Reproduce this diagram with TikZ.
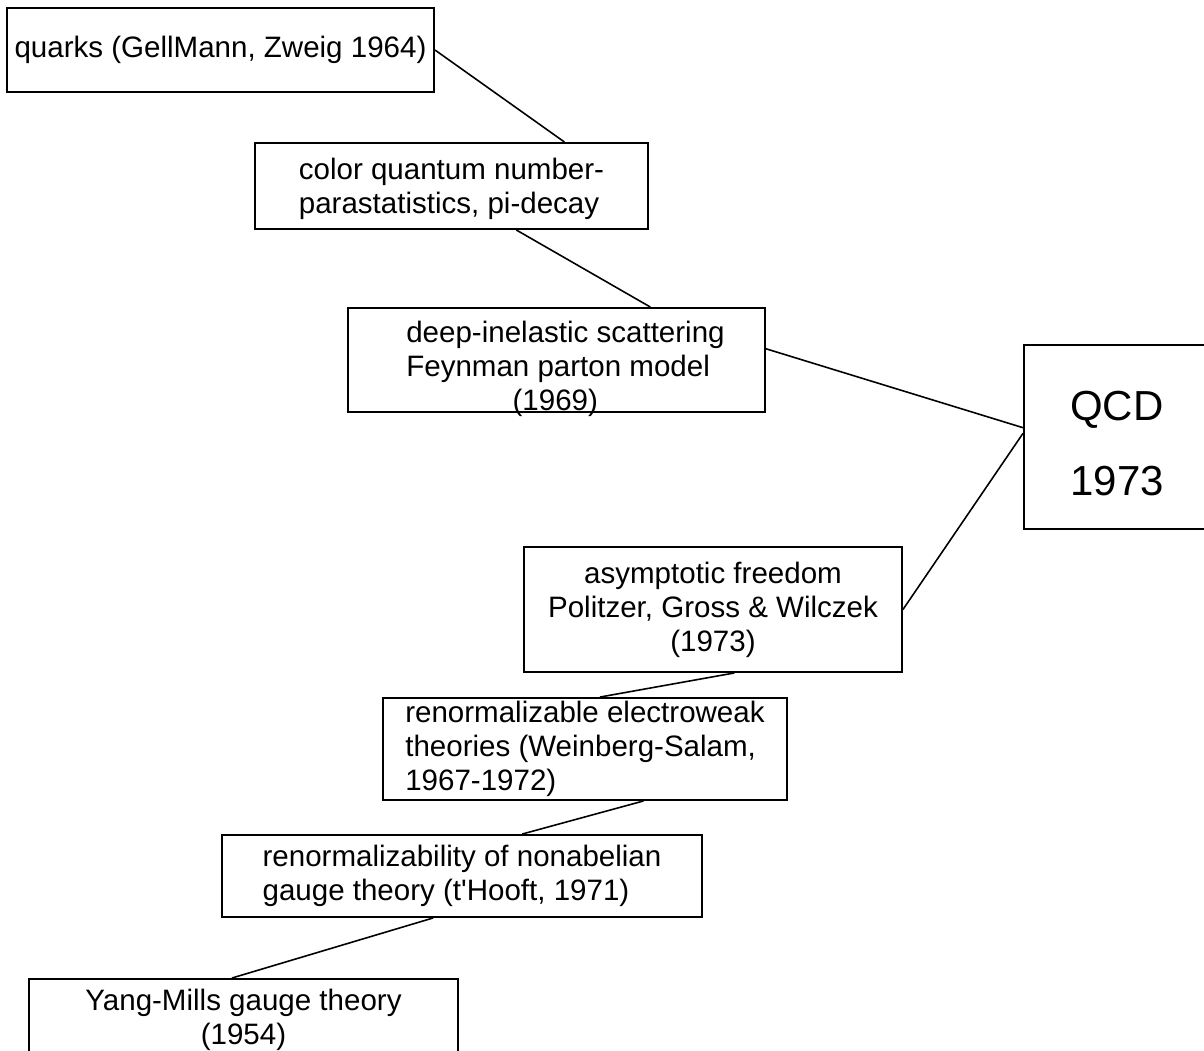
\documentclass[tikz,border=0pt]{standalone}
\usepackage{fontspec}
\setmainfont{Liberation Sans}
\usetikzlibrary{calc}

\tikzset{
  event/.style={draw, line width=1.1pt, inner sep=0pt, align=center,
    font=\fontsize{16.8pt}{19.4pt}\selectfont},
  link/.style={line width=0.9pt},
}
% text set a little lower inside its box
\newcommand{\lowered}[2]{\raisebox{-#1}[\height][\depth]{\begin{tabular}{@{}l@{}}#2\end{tabular}}}

\begin{document}
\begin{tikzpicture}
\useasboundingbox (0,0) rectangle (24.08,-21.02);
\clip (0,0) rectangle (24.08,-21.02);
% the boxes, top to bottom
\node[event, minimum width=8.54cm, minimum height=1.68cm] (quarks) at (4.41,-1.0) {quarks (GellMann, Zweig 1964)};
\node[event, minimum width=7.86cm, minimum height=1.72cm] (color) at (9.03,-3.72) {\lowered{0.08cm}{color quantum number-\\parastatistics, pi-decay}};
\node[event, minimum width=8.34cm, minimum height=2.08cm] (dis) at (11.13,-7.2) {\hspace*{0.36cm}\lowered{0.2cm}{deep-inelastic scattering\\Feynman parton model\\\hspace*{3.6em}(1969)}};
\node[event, minimum width=3.72cm, minimum height=3.68cm, font=\fontsize{23.9pt}{42.7pt}\selectfont] (qcd) at (22.34,-8.74) {\lowered{0.12cm}{QCD\\1973}};
\node[event, minimum width=7.56cm, minimum height=2.5cm] (asym) at (14.26,-12.19) {asymptotic freedom\\Politzer, Gross \& Wilczek\\(1973)};
\node[event, align=left, minimum width=8.08cm, minimum height=2.04cm] (ew) at (11.7,-14.98) {renormalizable electroweak\\theories (Weinberg-Salam,\\1967-1972)};
\node[event, align=left, minimum width=9.6cm, minimum height=1.64cm] (nonab) at (9.24,-17.52) {renormalizability of nonabelian\\gauge theory (t\textquotesingle Hooft, 1971)};
\node[event, minimum width=8.58cm, minimum height=1.64cm] (ym) at (4.87,-20.4) {Yang-Mills gauge theory\\(1954)};
% connectors
\draw[link] (quarks.east) -- ($(color.north west)!0.786!(color.north east)$);
\draw[link] ($(color.south west)!0.664!(color.south east)$) -- ($(dis.north west)!0.724!(dis.north east)$);
\draw[link] ($(dis.north east)!0.394!(dis.south east)$) -- ($(qcd.north west)!0.45!(qcd.south west)$);
\draw[link] (asym.east) -- ($(qcd.north west)!0.48!(qcd.south west)$);
\draw[link] ($(asym.south west)!0.556!(asym.south east)$) -- ($(ew.north west)!0.537!(ew.north east)$);
\draw[link] ($(ew.south west)!0.644!(ew.south east)$) -- ($(nonab.north west)!0.625!(nonab.north east)$);
\draw[link] ($(nonab.south west)!0.44!(nonab.south east)$) -- ($(ym.north west)!0.473!(ym.north east)$);
\end{tikzpicture}
\end{document}
